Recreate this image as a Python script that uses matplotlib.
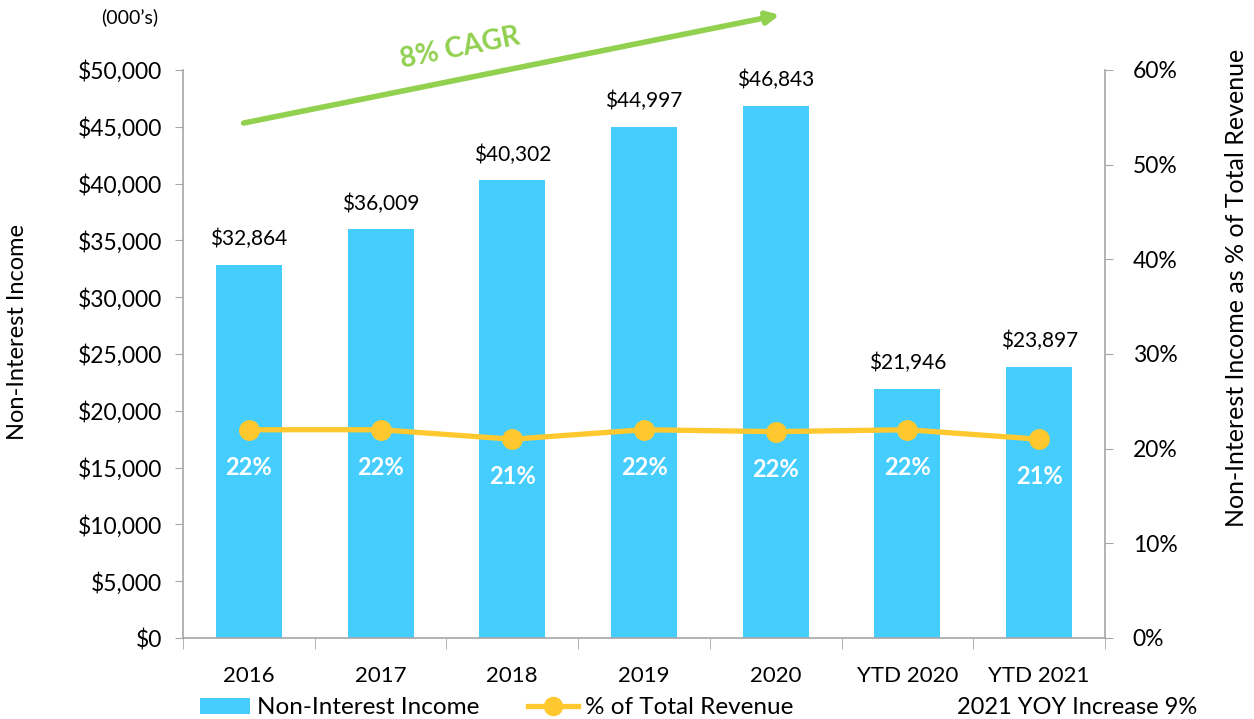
import matplotlib
matplotlib.use("Agg")
import matplotlib.pyplot as plt
from matplotlib.patches import Patch
from matplotlib.lines import Line2D
from matplotlib.ticker import FuncFormatter, MultipleLocator
import numpy as np

plt.rcParams['font.family'] = ['Lato', 'DejaVu Sans']

categories = ["2016", "2017", "2018", "2019", "2020", "YTD 2020", "YTD 2021"]
income = [32864, 36009, 40302, 44997, 46843, 21946, 23897]
pct_values = [22.0, 22.0, 21.0, 22.0, 21.8, 22.0, 21.0]
pct_labels = ["22%", "22%", "21%", "22%", "22%", "22%", "21%"]

BAR = "#45CDFE"
LINE = "#FFC82E"
GREEN = "#92D050"
SPINE = "#A6A6A6"

W, H = 1254, 719
fig = plt.figure(figsize=(W / 100, H / 100), dpi=100)
ax = fig.add_axes([183 / W, (H - 638) / H, (1105 - 183) / W, (638 - 70) / H])

x = np.arange(len(categories))
ax.bar(x, income, width=0.5, color=BAR, zorder=2)
ax.set_xlim(-0.5, len(categories) - 0.5)
ax.set_ylim(0, 50000)
ax.yaxis.set_major_locator(MultipleLocator(5000))
ax.yaxis.set_major_formatter(FuncFormatter(lambda v, p: f"${v:,.0f}"))
ax.set_xticks(x)
ax.set_xticklabels(categories)
ax.set_xticks(np.arange(-0.5, len(categories)), minor=True)
ax.tick_params(axis='x', which='major', length=0, pad=20, labelsize=16)
ax.tick_params(axis='x', which='minor', length=8, color=SPINE, direction='out')
ax.tick_params(axis='y', length=6, color=SPINE, labelsize=16.5, pad=9)
for s in ['top', 'right']:
    ax.spines[s].set_visible(False)
for s in ['left', 'bottom']:
    ax.spines[s].set_color(SPINE)
    ax.spines[s].set_linewidth(1.2)

for xi, v in zip(x, income):
    ax.annotate(f"${v:,}", (xi, v), xytext=(0, 11), textcoords='offset points',
                ha='center', va='bottom', fontsize=15, color='black')

ax2 = ax.twinx()
ax2.set_ylim(0, 60)
ax2.yaxis.set_major_locator(MultipleLocator(10))
ax2.yaxis.set_major_formatter(FuncFormatter(lambda v, p: f"{v:.0f}%"))
ax2.tick_params(axis='y', length=6, color=SPINE, labelsize=16.5, pad=14)
for s in ['top', 'left', 'bottom']:
    ax2.spines[s].set_visible(False)
ax2.spines['right'].set_color(SPINE)
ax2.spines['right'].set_linewidth(1.2)
ax2.plot(x, pct_values, color=LINE, linewidth=3.8, marker='o', markersize=14, zorder=3)
for xi, v, lab in zip(x, pct_values, pct_labels):
    ax2.annotate(lab, (xi, v), xytext=(0, -27), textcoords='offset points',
                 ha='center', va='center', fontsize=17, fontweight='bold', color='white')

# CAGR arrow
ax.annotate("", xy=(4.03, 54850), xytext=(-0.04, 45330), xycoords='data',
            arrowprops=dict(arrowstyle='-|>', color=GREEN, lw=4, mutation_scale=18,
                            shrinkA=0, shrinkB=0), annotation_clip=False)
ax.text(1.6, 51900, "8% CAGR", color=GREEN, fontsize=20, fontweight='bold',
        rotation=11.4, rotation_mode='anchor', ha='center', va='center', clip_on=False)

# axis labels
fig.text(18 / W, 1 - 332 / H, "Non-Interest Income", rotation=90, ha='center', va='center', fontsize=17)
fig.text(1236 / W, 1 - 288 / H, "Non-Interest Income as % of Total Revenue", rotation=90,
         ha='center', va='center', fontsize=18)
fig.text(130 / W, 1 - 17 / H, "(000\u2019s)", ha='center', va='center', fontsize=14)

# legend
handles = [Patch(facecolor=BAR, edgecolor='none', label="Non-Interest Income"),
           Line2D([0], [0], color=LINE, lw=3.8, marker='o', markersize=13, label="% of Total Revenue")]
fig.legend(handles=handles, loc='center left', bbox_to_anchor=(200 / W, 1 - 708 / H), ncol=2,
           frameon=False, fontsize=17.5, handlelength=2.05, handleheight=0.62, columnspacing=2.0,
           handletextpad=0.3, borderpad=0, borderaxespad=0)
fig.text(1197 / W, 1 - 708 / H, "2021 YOY Increase 9%", ha='right', va='center', fontsize=17)

fig.savefig("out.png", dpi=100)
